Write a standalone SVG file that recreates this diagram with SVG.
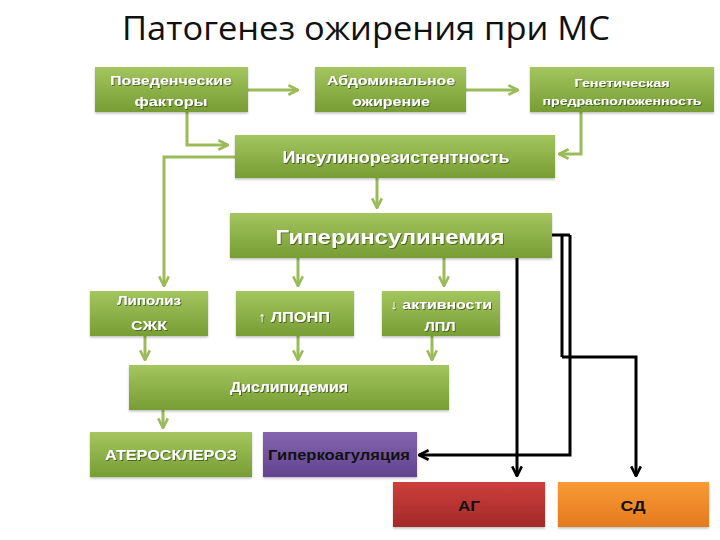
<svg xmlns="http://www.w3.org/2000/svg" width="720" height="540" viewBox="0 0 720 540">
<defs>
<linearGradient id="gGreen" x1="0" y1="0" x2="0" y2="1">
<stop offset="0" stop-color="#a4c55f"/><stop offset="1" stop-color="#779d34"/>
</linearGradient>
<linearGradient id="gPurple" x1="0" y1="0" x2="0" y2="1">
<stop offset="0" stop-color="#8465ad"/><stop offset="1" stop-color="#624390"/>
</linearGradient>
<linearGradient id="gRed" x1="0" y1="0" x2="0" y2="1">
<stop offset="0" stop-color="#cd3f3b"/><stop offset="1" stop-color="#a3292a"/>
</linearGradient>
<linearGradient id="gOrange" x1="0" y1="0" x2="0" y2="1">
<stop offset="0" stop-color="#f99a35"/><stop offset="1" stop-color="#e47a1e"/>
</linearGradient>
<filter id="ts" x="-10%" y="-30%" width="120%" height="160%">
<feDropShadow dx="1" dy="1" stdDeviation="0.6" flood-color="#2f4a0c" flood-opacity="0.7"/>
</filter>
<filter id="bs" x="-5%" y="-10%" width="110%" height="130%">
<feDropShadow dx="0" dy="1.5" stdDeviation="1.2" flood-color="#000" flood-opacity="0.25"/>
</filter>
<marker id="ag" viewBox="0 0 10 10" refX="9" refY="5" markerWidth="4" markerHeight="4" orient="auto" markerUnits="strokeWidth">
<path d="M1,1 L9,5 L1,9" fill="none" stroke="#9bbb59" stroke-width="2.2"/>
</marker>
<marker id="ab" viewBox="0 0 10 10" refX="9" refY="5" markerWidth="4" markerHeight="4" orient="auto" markerUnits="strokeWidth">
<path d="M1,1 L9,5 L1,9" fill="none" stroke="#000" stroke-width="2.2"/>
</marker>
</defs>
<style>
.g{fill:url(#gGreen);filter:url(#bs)}
.t{font-family:"Liberation Sans",Arial,sans-serif;font-weight:bold;fill:#fff;text-anchor:middle;filter:url(#ts)}
.k{font-family:"Liberation Sans",Arial,sans-serif;font-weight:bold;fill:#111;text-anchor:middle}
.cg{fill:none;stroke:#9bbb59;stroke-width:3;marker-end:url(#ag)}
.cb{fill:none;stroke:#000;stroke-width:3}
.cba{fill:none;stroke:#000;stroke-width:3;marker-end:url(#ab)}
</style>
<rect width="720" height="540" fill="#fff"/>
<text x="366" y="40" font-family="'Open Sans','Noto Sans',sans-serif" font-size="32" fill="#111" text-anchor="middle" textLength="488" lengthAdjust="spacingAndGlyphs">Патогенез ожирения при МС</text>

<g id="connectors">
<path class="cg" d="M248,90 H298"/>
<path class="cg" d="M465,90 H518"/>
<path class="cg" d="M187,112 V145 H228"/>
<path class="cg" d="M581,112 V154 H559"/>
<path class="cg" d="M377,178 V208"/>
<path class="cg" d="M235,157 H164 V286"/>
<path class="cg" d="M298,258 V286"/>
<path class="cg" d="M444,258 V286"/>
<path class="cg" d="M145,336 V360"/>
<path class="cg" d="M298,336 V360"/>
<path class="cg" d="M432,336 V360"/>
<path class="cg" d="M163,410 V428"/>
<path class="cb" d="M552,235 H570"/>
<path class="cb" d="M562,235 V357"/>
<path class="cba" d="M562,357 H636 V476"/>
<path class="cba" d="M570,235 V455 H419"/>
<path class="cba" d="M517,258 V476"/>
</g>

<g id="n-povedench">
<rect class="g" x="95" y="67" width="153" height="45"/>
<text class="t" x="171" y="85" font-size="13" textLength="122" lengthAdjust="spacingAndGlyphs">Поведенческие</text>
<text class="t" x="171" y="106" font-size="13" textLength="73" lengthAdjust="spacingAndGlyphs">факторы</text>
</g>
<g id="n-abdomin">
<rect class="g" x="315" y="67" width="151" height="45"/>
<text class="t" x="391" y="85" font-size="13" textLength="128" lengthAdjust="spacingAndGlyphs">Абдоминальное</text>
<text class="t" x="391" y="106" font-size="13" textLength="78" lengthAdjust="spacingAndGlyphs">ожирение</text>
</g>
<g id="n-genetic">
<rect class="g" x="530" y="67" width="184" height="45"/>
<text class="t" x="622" y="87" font-size="11" textLength="95" lengthAdjust="spacingAndGlyphs">Генетическая</text>
<text class="t" x="622" y="105" font-size="11" textLength="159" lengthAdjust="spacingAndGlyphs">предрасположенность</text>
</g>
<g id="n-insulinorez">
<rect class="g" x="235" y="135" width="320" height="43"/>
<text class="t" x="396" y="163" font-size="16" textLength="227" lengthAdjust="spacingAndGlyphs">Инсулинорезистентность</text>
</g>
<g id="n-hyperinsul">
<rect class="g" x="230" y="213" width="322" height="45"/>
<text class="t" x="390" y="244" font-size="20" textLength="229" lengthAdjust="spacingAndGlyphs">Гиперинсулинемия</text>
</g>
<g id="n-lipoliz">
<rect class="g" x="90" y="291" width="118" height="45"/>
<text class="t" x="149" y="305" font-size="13" textLength="64" lengthAdjust="spacingAndGlyphs">Липолиз</text>
<text class="t" x="149" y="330" font-size="13" textLength="36" lengthAdjust="spacingAndGlyphs">СЖК</text>
</g>
<g id="n-lponp">
<rect class="g" x="236" y="291" width="118" height="45"/>
<text class="t" x="294" y="322" font-size="14" textLength="72" lengthAdjust="spacingAndGlyphs">↑ ЛПОНП</text>
</g>
<g id="n-lpl">
<rect class="g" x="382" y="291" width="118" height="45"/>
<text class="t" x="441" y="309" font-size="13" textLength="102" lengthAdjust="spacingAndGlyphs">↓ активности</text>
<text class="t" x="440" y="331" font-size="13" textLength="31" lengthAdjust="spacingAndGlyphs">ЛПЛ</text>
</g>
<g id="n-dislipid">
<rect class="g" x="129" y="365" width="320" height="45"/>
<text class="t" x="289" y="392" font-size="14" textLength="118" lengthAdjust="spacingAndGlyphs">Дислипидемия</text>
</g>
<g id="n-ateroskleroz">
<rect class="g" x="90" y="432" width="162" height="45"/>
<text class="t" x="171" y="460" font-size="14" textLength="132" lengthAdjust="spacingAndGlyphs">АТЕРОСКЛЕРОЗ</text>
</g>
<g id="n-hyperkoag">
<rect x="263" y="432" width="154" height="45" fill="url(#gPurple)" filter="url(#bs)"/>
<text class="k" x="339" y="460" font-size="14" textLength="142" lengthAdjust="spacingAndGlyphs">Гиперкоагуляция</text>
</g>
<g id="n-ag">
<rect x="393" y="482" width="152" height="45" fill="url(#gRed)" filter="url(#bs)"/>
<text class="k" x="469" y="511" font-size="15" textLength="22" lengthAdjust="spacingAndGlyphs">АГ</text>
</g>
<g id="n-sd">
<rect x="558" y="482" width="151" height="45" fill="url(#gOrange)" filter="url(#bs)"/>
<text class="k" x="633" y="511" font-size="15" textLength="25" lengthAdjust="spacingAndGlyphs">СД</text>
</g>
</svg>
